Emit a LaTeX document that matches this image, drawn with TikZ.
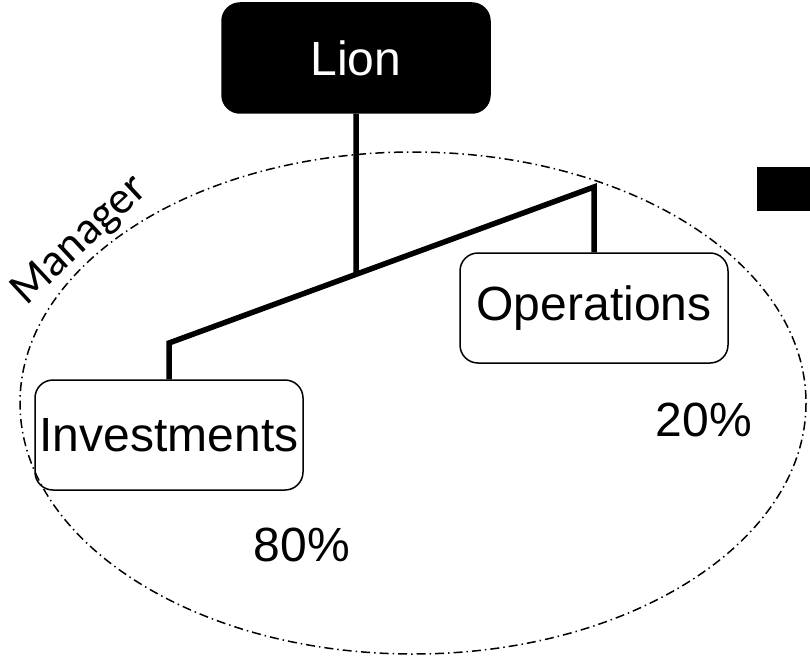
\documentclass[tikz,border=0pt]{standalone}
\usepackage{fontspec}
\setmainfont{Liberation Sans}
\newfontfamily\ringfont{Carlito}
\usetikzlibrary{positioning,calc}

\begin{document}
\begin{tikzpicture}[x=1pt,y=-1pt,
    unit/.style={rectangle,rounded corners=18pt,draw,line width=1.5pt,
        minimum width=268pt,minimum height=110pt,inner sep=0pt,
        font=\fontsize{48}{58}\selectfont},
    head/.style={unit,fill=black,text=white},
    share/.style={font=\fontsize{48}{58}\selectfont},
    branch/.style={line width=5.5pt},
    ring/.style={line width=1.5pt,dash pattern=on 9pt off 4pt on 1.5pt off 4pt}]
    \useasboundingbox (0,0) rectangle (810,658);
    % group ring
    \draw[ring] (413,403) ellipse [x radius=393, y radius=251];
    \node[rotate=43,inner sep=0pt,font=\ringfont\fontsize{46}{55}\selectfont] (mgr) at (80,241) {Manager};
    \fill (757,167) rectangle (815,211);
    % boxes
    \node[head] (lion) at (356,58) {Lion};
    \node[unit] (oper) at (594,308) {Operations};
    \node[unit] (invest) at (169,435) {Investments};
    \node[share] (p80) at (302,545) {80\%};
    \node[share] (p20) at (704,420) {20\%};
    % tree
    \coordinate (invtop) at (invest.north |- 0,343);
    \coordinate (optop) at (oper.north |- 0,187);
    \coordinate (joint) at ($(invtop)!{(356-169)/(594-169)}!(optop)$);
    \draw[branch] (invest.north) -- (invtop) -- (optop) -- (oper.north);
    \draw[branch] (lion.south) -- (joint);
\end{tikzpicture}
\end{document}
